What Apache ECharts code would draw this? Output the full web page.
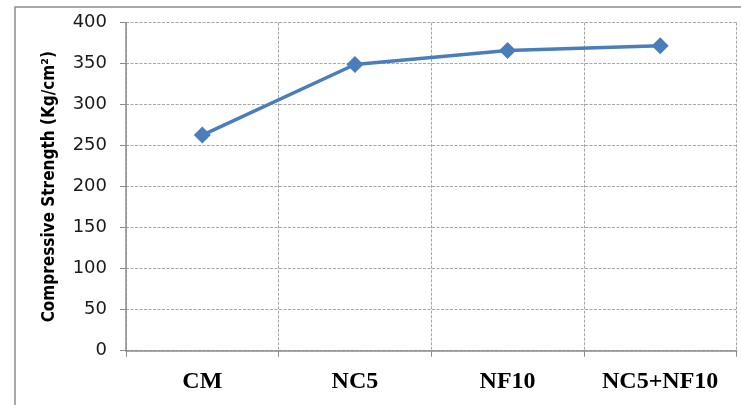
<!DOCTYPE html>
<html>
<head>
<meta charset="utf-8">
<script src="https://cdn.jsdelivr.net/npm/echarts@6/dist/echarts.min.js"></script>
<style>html,body{margin:0;padding:0;background:#fff;}#c{width:741px;height:405px;}</style>
</head>
<body>
<div id="c"></div>
<script>
const categories = ["CM", "NC5", "NF10", "NC5+NF10"];
const strengthValues = [263, 349, 366, 372];
const yAxisTitle = "Compressive Strength (Kg/cm\u00B2)";
const yMin = 0, yMax = 400, yStep = 50;

const chart = echarts.init(document.getElementById('c'), null, {renderer: 'canvas'});
chart.setOption({
  animation: false,
  backgroundColor: '#fff',
  graphic: [{
    type: 'rect', left: 12.5, top: 4.5, silent: true,
    shape: {width: 800, height: 500},
    style: {fill: 'none', stroke: '#8c8c8c', lineWidth: 1.5}
  }],
  grid: {left: 126, top: 22.7, right: 4.5, bottom: 54.3, containLabel: false},
  xAxis: {
    type: 'category', data: categories, boundaryGap: true,
    axisLine: {lineStyle: {color: '#8c8c8c', width: 1.5}},
    axisTick: {show: true, length: 6, alignWithLabel: false, lineStyle: {color: '#8c8c8c'}},
    splitLine: {show: true, lineStyle: {color: '#a6a6a6', type: [3, 1.5], width: 1}},
    axisLabel: {color: '#000', fontFamily: 'Liberation Serif', fontWeight: 'bold', fontSize: 24, margin: 19}
  },
  yAxis: {
    type: 'value', min: yMin, max: yMax, interval: yStep,
    name: yAxisTitle, nameLocation: 'middle', nameGap: 68, nameRotate: 90,
    nameTextStyle: {color: '#000', fontFamily: '"Liberation Sans Narrow", "DejaVu Sans Condensed", sans-serif', fontWeight: 'bold', fontSize: 17},
    axisLine: {show: true, lineStyle: {color: '#8c8c8c', width: 1.5}},
    axisTick: {show: true, length: 6, lineStyle: {color: '#8c8c8c'}},
    splitLine: {show: true, lineStyle: {color: '#a6a6a6', type: [3, 1.5], width: 1}},
    axisLabel: {color: '#1a1a1a', fontFamily: 'DejaVu Sans', fontSize: 18, margin: 19}
  },
  series: [{
    type: 'line', data: strengthValues,
    symbol: 'diamond', symbolSize: 17,
    lineStyle: {color: '#4a7ebb', width: 3.5},
    itemStyle: {color: '#4a7ebb'}
  }]
});
</script>
</body>
</html>
